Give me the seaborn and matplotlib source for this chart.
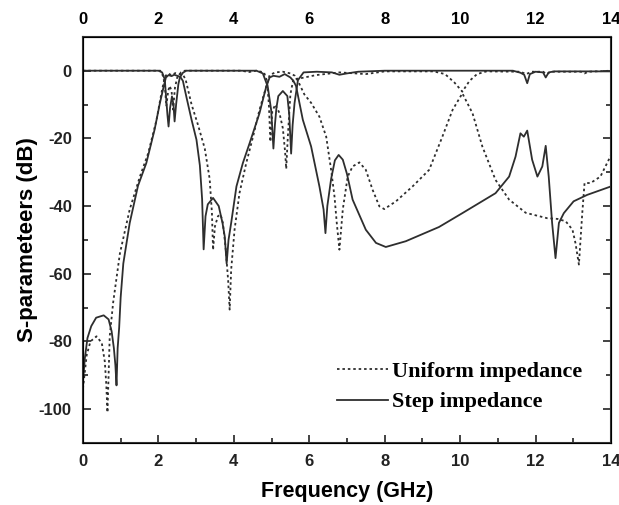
import numpy as np
import pandas as pd
import seaborn as sns
import matplotlib.pyplot as plt
from matplotlib.ticker import MultipleLocator

step_s21_f = [0.0, 0.05, 0.12, 0.22, 0.35, 0.55, 0.68, 0.76, 0.82, 0.86, 0.89, 0.92, 0.96, 1.0, 1.07,
              1.24, 1.46, 1.68, 1.9, 2.04, 2.14, 2.2, 2.27, 2.35, 2.42, 2.5, 2.58, 2.65, 2.74, 2.88,
              3.01, 3.1, 3.16, 3.2, 3.25, 3.31, 3.45, 3.6, 3.7, 3.76, 3.81, 3.86, 3.93, 4.07, 4.24,
              4.42, 4.68, 4.86, 4.95, 5.05, 5.21, 5.35, 5.5, 5.58, 5.65, 5.83, 6.05, 6.27, 6.38, 6.43,
              6.48, 6.58, 6.68, 6.78, 6.89, 7.0, 7.15, 7.5, 7.77, 8.03, 8.56, 9.44, 10.06, 10.94, 11.3,
              11.47, 11.6, 11.69, 11.78, 11.91, 12.05, 12.18, 12.27, 12.35, 12.44, 12.53, 12.62, 12.75,
              13.01, 13.37, 14.0]
step_s21_db = [-92, -85, -79, -75.5, -73, -72.3, -73.5, -77, -82, -87, -93, -82, -76, -67, -57,
               -45, -34, -27.3, -17.4, -9.6, -4.7, -2, -1.3, -1.6, -1.2, -1.5, -1.8, -3, -7.6, -14.5,
               -20.4, -28, -38, -52.8, -43, -39.5, -37.6, -40, -45, -49, -57, -50, -45, -34.2, -27.3,
               -21.4, -12.6, -4.7, -2, -1.5, -1.8, -1, -2, -3, -4.5, -14.5, -22.4, -34.2, -41, -48,
               -40, -32, -26.5, -24.9, -26.3, -30.5, -38.1, -47, -50.9, -52.1, -50.4, -46.2, -42.1, -36.2, -31.3,
               -25.4, -18.5, -19.5, -17.7, -26.3, -31.3, -28.3, -22.2, -31.3, -45, -55.4, -45, -42.1,
               -38.6, -36.7, -34.2]

step_s11_f = [0, 2.0, 2.1, 2.17, 2.21, 2.24, 2.27, 2.31, 2.36, 2.4, 2.43, 2.47, 2.53, 2.57, 2.65, 2.74,
              4.6, 4.77, 4.9, 4.99, 5.02, 5.05, 5.09, 5.13, 5.18, 5.3, 5.42, 5.47, 5.52, 5.56, 5.61,
              5.7, 5.85, 6.2, 6.6, 6.8, 7.0, 7.3, 8.0, 11.4, 11.6, 11.7, 11.78, 11.85, 12.0, 12.2,
              12.27, 12.35, 12.5, 14.0]
step_s11_db = [0, 0, -0.5, -2.6, -8.6, -13, -16.5, -11, -7.6, -10, -15, -10, -4, -2, -0.6, 0,
               0, -0.8, -4.7, -11.6, -17, -23, -16, -11, -7.5, -6, -7.5, -13, -24.5, -16, -9.6,
               -2.8, -0.5, -0.3, -0.5, -1.2, -0.8, -0.3, 0, 0, -0.6, -1.2, -3.7, -1, -0.3, -0.5,
               -2, -0.5, -0.2, -0.2]

unif_s21_f = [0.0, 0.1, 0.2, 0.36, 0.5, 0.58, 0.62, 0.65, 0.68, 0.71, 0.8, 0.98, 1.24, 1.51, 1.73,
              1.95, 2.08, 2.17, 2.25, 2.35, 2.45, 2.55, 2.65, 2.72, 2.88, 3.05, 3.23, 3.36, 3.42, 3.45,
              3.5, 3.58, 3.65, 3.71, 3.78, 3.85, 3.89, 3.93, 4.02, 4.15, 4.33, 4.51, 4.68, 4.86, 4.95,
              5.1, 5.3, 5.5, 5.62, 5.7, 5.87, 6.05, 6.27, 6.45, 6.58, 6.67, 6.73, 6.8, 6.89, 7.02,
              7.15, 7.33, 7.5, 7.68, 7.86, 7.99, 8.3, 8.74, 9.18, 9.53, 9.8, 10.06, 10.33, 10.59,
              10.94, 11.3, 11.74, 12.31, 12.58, 12.8, 12.98, 13.06, 13.15, 13.24, 13.3, 13.46, 13.72, 14.0]
unif_s21_db = [-94, -84, -80, -78.5, -80.5, -86, -93, -101, -90, -78.5, -68.6, -54, -41, -31.3, -24.4,
               -14.6, -6.7, -1.8, -0.8, -1.3, -0.7, -1, -1.2, -2.5, -10, -16, -23, -32, -42, -53,
               -46, -43, -42.5, -45, -52, -62, -70.6, -58.8, -47, -36.2, -27.3, -19.5, -11.6, -4.7, -1.3,
               -0.5, -0.3, -0.8, -1.5, -3, -7, -9.5, -13.6, -19.5, -29.3, -37.2, -45, -52.9, -41, -31.3,
               -28.3, -27.1, -29.3, -35.2, -40.1, -40.9, -38.6, -34.2, -29.3, -19.5, -11.6, -6.7, -12.6, -22.4,
               -32.3, -38.1, -42, -43.6, -43.8, -44.5, -47, -51, -57.3, -42, -33.2, -33.2, -31.3, -25]

unif_s11_f = [0, 2.05, 2.12, 2.17, 2.21, 2.26, 2.3, 2.35, 2.39, 2.44, 2.5, 2.6, 2.7, 4.2, 4.4, 4.6,
              4.8, 4.88, 4.93, 4.97, 5.02, 5.1, 5.21, 5.3, 5.36, 5.39, 5.43, 5.5, 5.58, 5.74, 6.18,
              6.8, 7.5, 8.0, 9.3, 9.6, 9.85, 10.06, 10.25, 10.45, 10.7, 11.6, 11.75, 11.9, 12.2, 12.3,
              12.4, 13.2, 13.3, 13.4, 14.0]
unif_s11_db = [0, 0, -1.5, -4, -10.5, -6, -4.5, -6, -11.5, -5, -2, -0.5, 0, 0, -0.4, 0,
               -0.5, -3, -10, -21, -12, -10, -12.5, -17, -24, -29, -20, -7, -2.5, -2.3, -1.3,
               -0.5, -1, -0.2, -0.2, -1, -3.5, -6.2, -3, -1, -0.2, -0.3, -1, -0.3, -0.3, -1,
               -0.3, -0.3, -0.8, -0.3, 0]

plt.rcParams['font.family'] = ['Liberation Sans', 'DejaVu Sans']
plt.rcParams['axes.unicode_minus'] = False

line_color = '#2e2e2e'
dotted = (0, (1.4, 1.6))

fig = plt.figure(figsize=(6.19, 5.05), dpi=100)
ax = fig.add_axes([0.134, 0.123, 0.853, 0.804])

sns.lineplot(x=unif_s21_f, y=unif_s21_db, ax=ax, color=line_color, lw=1.3, linestyle=dotted,
             sort=False, estimator=None, label='Uniform impedance')
sns.lineplot(x=unif_s11_f, y=unif_s11_db, ax=ax, color=line_color, lw=1.3, linestyle=dotted,
             sort=False, estimator=None)
sns.lineplot(x=step_s21_f, y=step_s21_db, ax=ax, color=line_color, lw=1.3,
             sort=False, estimator=None, label='Step impedance')
sns.lineplot(x=step_s11_f, y=step_s11_db, ax=ax, color=line_color, lw=1.3,
             sort=False, estimator=None)

ax.set_xlim(0, 14)
ax.set_ylim(-110, 10)
ax.xaxis.set_major_locator(MultipleLocator(2))
ax.xaxis.set_minor_locator(MultipleLocator(1))
ax.yaxis.set_major_locator(MultipleLocator(20))
ax.yaxis.set_minor_locator(MultipleLocator(10))
ax.tick_params(which='both', direction='in', top=True, right=True, width=1.2, colors='#222222')
ax.tick_params(which='major', length=6, labelsize=12, pad=8)
ax.tick_params(which='minor', length=3.5)
for lab in ax.get_xticklabels() + ax.get_yticklabels():
    lab.set_fontweight('bold')
for sp in ax.spines.values():
    sp.set_linewidth(1.5)
    sp.set_color('#333333')

top = ax.twiny()
top.set_xlim(0, 14)
top.xaxis.set_major_locator(MultipleLocator(2))
top.xaxis.set_minor_locator(MultipleLocator(1))
top.tick_params(which='both', direction='in', length=0, labelsize=12, pad=7)
for lab in top.get_xticklabels():
    lab.set_fontweight('bold')

ax.set_xlabel('Frequency (GHz)', fontsize=15.5, fontweight='bold')
ax.set_ylabel('S-parameteers (dB)', fontsize=16, fontweight='bold')
ax.xaxis.set_label_coords(0.5, -0.093)
ax.yaxis.set_label_coords(-0.085, 0.5)

leg = ax.legend(loc='lower right', bbox_to_anchor=(0.984, 0.026), frameon=False, handlelength=2.3,
                handletextpad=0.2, labelspacing=0.45,
                prop={'family': 'Liberation Serif', 'weight': 'bold', 'size': 16})

fig.savefig('out.png', dpi=100)
